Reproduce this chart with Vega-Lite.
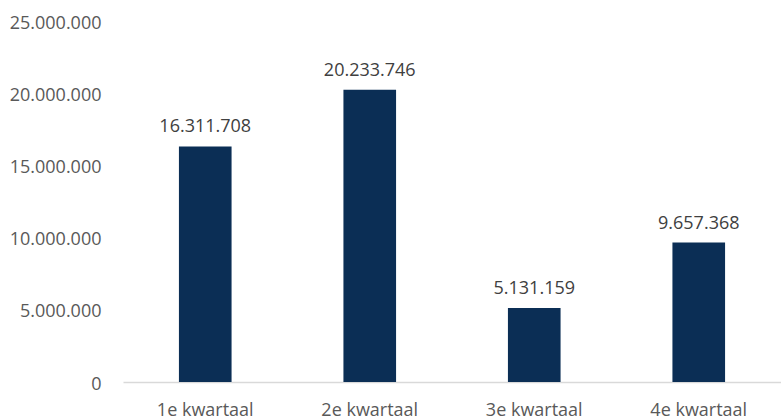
{
  "$schema": "https://vega.github.io/schema/vega-lite/v6.json",
  "width": 658,
  "height": 361,
  "autosize": {"type": "none"},
  "padding": {"left": 123, "top": 21, "right": 0, "bottom": 37},
  "background": "white",
  "config": {
    "view": {"stroke": null},
    "locale": {"number": {"decimal": ",", "thousands": ".", "grouping": [3], "currency": ["€", ""]}},
    "font": "Open Sans"
  },
  "data": {
    "values": [
      {"kwartaal": "1e kwartaal", "waarde": 16311708},
      {"kwartaal": "2e kwartaal", "waarde": 20233746},
      {"kwartaal": "3e kwartaal", "waarde": 5131159},
      {"kwartaal": "4e kwartaal", "waarde": 9657368}
    ]
  },
  "encoding": {
    "x": {
      "field": "kwartaal",
      "type": "nominal",
      "sort": null,
      "scale": {"paddingInner": 0.68, "paddingOuter": 0.34},
      "axis": {
        "title": null,
        "labelAngle": 0,
        "ticks": false,
        "tickSize": 0,
        "domainColor": "#d9d9d9",
        "domainWidth": 1.5,
        "labelColor": "#595959",
        "labelFontSize": 18,
        "labelFont": "Open Sans",
        "labelBaseline": "alphabetic",
        "labelPadding": 33
      }
    },
    "y": {
      "field": "waarde",
      "type": "quantitative",
      "scale": {"domain": [0, 25000000], "nice": false},
      "axis": {
        "title": null,
        "values": [0, 5000000, 10000000, 15000000, 20000000, 25000000],
        "format": ",d",
        "grid": false,
        "domain": false,
        "ticks": false,
        "tickSize": 0,
        "labelColor": "#595959",
        "labelFontSize": 18,
        "labelFont": "Open Sans",
        "labelPadding": 22,
        "labelOffset": 2
      }
    }
  },
  "layer": [
    {"mark": {"type": "bar", "color": "#0b2e55"}},
    {
      "mark": {"type": "text", "baseline": "alphabetic", "dy": -14, "fontSize": 18, "color": "#404040", "font": "Open Sans"},
      "encoding": {"text": {"field": "waarde", "type": "quantitative", "format": ",d"}}
    }
  ]
}
